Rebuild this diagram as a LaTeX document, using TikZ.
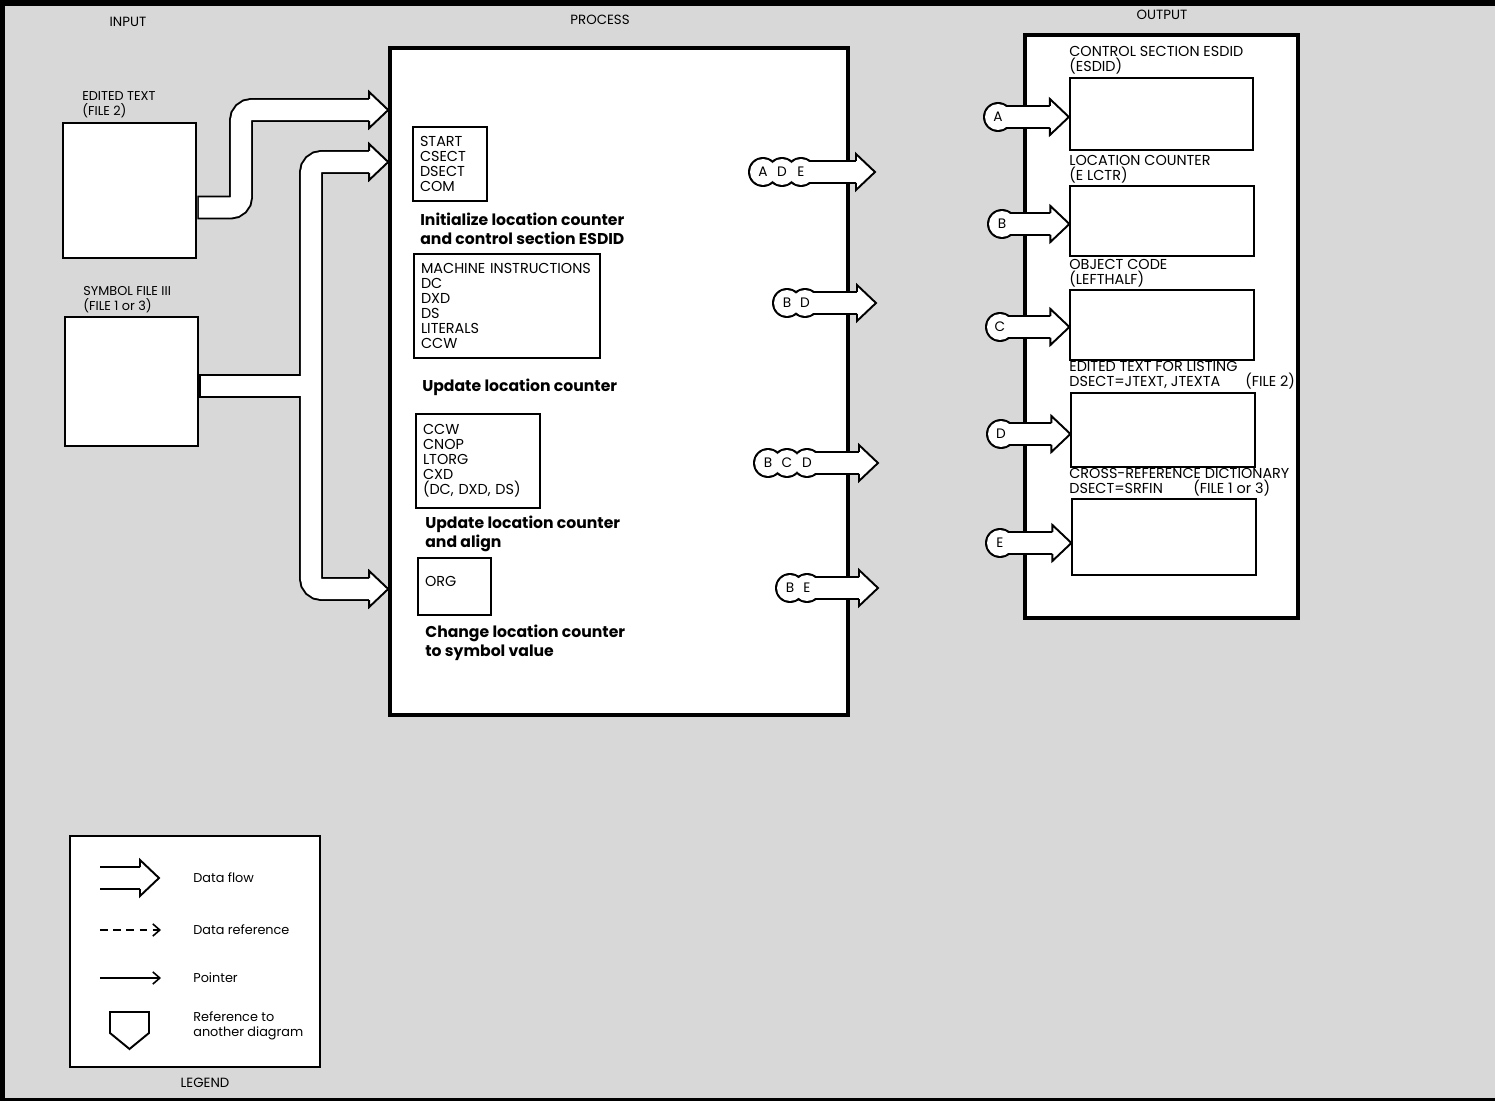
\documentclass[tikz,border=0pt]{standalone}
\usepackage{fontspec}
\setmainfont{Poppins}
\usetikzlibrary{positioning,arrows.meta,calc}
\definecolor{sheet}{HTML}{D8D8D8}
\newcommand{\lblfont}{\fontsize{7.3}{8.5}\selectfont}
\newcommand{\kwfont}{\fontsize{8.2}{8.6}\selectfont}
\newcommand{\capfont}{\fontsize{8.9}{10.8}\selectfont\bfseries}
\newcommand{\tagfont}{\fontsize{7.8}{8}\selectfont}
\tikzset{
    box/.style={draw,line width=1.6pt,fill=white,inner sep=0pt},
    bigbox/.style={box,line width=2.1pt},
    outbox/.style={box,line width=1pt,minimum width=3.67cm},
    kwbox/.style={draw,line width=0.8pt,fill=white,font=\kwfont,align=left,inner xsep=0.14cm,inner ysep=0pt},
    lbl/.style={font=\lblfont,align=left,anchor=west,inner sep=0pt},
    olbl/.style={lbl,font=\kwfont},
    caption/.style={font=\capfont,align=left,anchor=west,inner sep=0pt},
    title/.style={font=\fontsize{7.6}{8}\selectfont,inner sep=0pt},
    tagletter/.style={font=\tagfont,inner sep=0pt},
    shaftout/.style={draw=black,line width=13.6pt,rounded corners=6pt},
    shaftin/.style={draw=white,line width=11.4pt,rounded corners=6pt},
    tipline/.style={draw=black,fill=white,line width=1.1pt,line join=miter},
    ptr/.style={line width=0.9pt,-{Straight Barb[length=4pt,width=7pt]}},
}
\newcommand{\flowtip}[1]{%
    \filldraw[tipline] ([shift={(-19,-11)}]#1) -- ++(0,-7) -- (#1) -- ([shift={(-19,18)}]#1) -- ++(0,-7);}
\newcommand{\tagflow}[5]{%
    \foreach \tx/\tl in {#2} {\coordinate (#1\tl) at (\tx,#3);}
    \foreach \tx/\tl in {#2} {\fill (#1\tl) circle[radius=0.3cm];}
    \draw[shaftout] (#1#4) -- ([xshift=-0.36cm]#5);
    \foreach \tx/\tl in {#2} {\fill[white] (#1\tl) circle[radius=0.26cm];}
    \draw[shaftin] (#1#4) -- ([xshift=-0.36cm]#5);
    \foreach \tx/\tl in {#2} {\node[tagletter] (#1\tl-l) at (#1\tl) {\tl};}
    \flowtip{#5}}

\begin{document}
\begin{tikzpicture}[x=0.02cm,y=-0.02cm]
    \useasboundingbox (0,0) rectangle (1495,1101);
    \fill[sheet] (0,0) rectangle (1495,1101);
    \draw[line width=3.5pt] (1.5,1099.5) -- (1.5,3) -- (1495,3);
    \draw[line width=2pt] (0,1099.5) -- (1495,1099.5);

    \node[title] (tin) at (128,22) {INPUT};
    \node[title] (tproc) at (600,20) {PROCESS};
    \node[title] (tout) at (1162,15) {OUTPUT};
    \node[title] (tleg) at (205,1083) {LEGEND};

    \node[box,minimum width=2.66cm,minimum height=2.7cm] (edited) at (129.5,190.5) {};
    \node[box,minimum width=2.66cm,minimum height=2.58cm] (symfile) at (131.5,381.5) {};
    \node[lbl] (ledited) at (82,104.5) {EDITED TEXT\\(FILE 2)};
    \node[lbl] (lsymfile) at (83,299.5) {SYMBOL FILE III\\(FILE 1 or 3)};

    \node[bigbox,minimum width=9.16cm,minimum height=13.34cm] (process) at (619,381.5) {};
    \node[bigbox,minimum width=5.46cm,minimum height=11.66cm] (output) at (1161.5,326.5) {};

    \node[kwbox,text width=1.2cm,minimum height=1.48cm] (kwstart) at (450,164) {START\\CSECT\\DSECT\\COM};
    \node[caption] (cinit) at (420,228.5) {Initialize location counter\\and control section ESDID};
    \node[kwbox,text width=3.44cm,minimum height=2.08cm] (kwmach) at (507,306) {\mbox{MACHINE INSTRUCTIONS}\\DC\\DXD\\DS\\LITERALS\\CCW};
    \node[caption] (cupd) at (422,387) {Update location counter};
    \node[kwbox,text width=2.2cm,minimum height=1.88cm] (kwccw) at (478,461) {CCW\\CNOP\\LTORG\\CXD\\(DC, DXD, DS)};
    \node[caption] (calign) at (425,533.5) {Update location counter\\and align};
    \node[kwbox,text width=1.18cm,minimum height=1.14cm,text depth=0.22cm] (kworg) at (454.5,586.5) {ORG};
    \node[caption] (corg) at (425,643) {Change location counter\\to symbol value};

    \node[outbox,minimum height=1.44cm] (esdid) at (1161.5,114) {};
    \node[outbox,minimum height=1.4cm] (lctr) at (1162,221) {};
    \node[outbox,minimum height=1.4cm] (objcode) at (1162,325) {};
    \node[outbox,minimum height=1.48cm] (jtext) at (1163,430) {};
    \node[outbox,minimum height=1.52cm] (srfin) at (1164,537) {};
    \node[olbl] (lesdid) at (1069,60) {CONTROL SECTION ESDID\\(ESDID)};
    \node[olbl] (llctr) at (1069,169) {LOCATION COUNTER\\(E LCTR)};
    \node[olbl] (lobjcode) at (1069,273.5) {OBJECT CODE\\(LEFTHALF)};
    \node[olbl] (ljtext) at (1069,375.5) {EDITED TEXT FOR LISTING\\\makebox[3.52cm][l]{DSECT=JTEXT, JTEXTA}(FILE 2)};
    \node[olbl] (lsrfin) at (1069,482.5) {CROSS-REFERENCE DICTIONARY\\\makebox[2.48cm][l]{DSECT=SRFIN}(FILE 1 or 3)};

    \coordinate (pin1) at (process.west |- 0,110);
    \coordinate (pin2) at (process.west |- 0,162);
    \coordinate (pin3) at (process.west |- 0,589);
    \draw[shaftout] (edited.east |- 0,207.5) -- (241,207.5) -- (241,110) -- ([xshift=-0.36cm]pin1);
    \draw[shaftout] ([xshift=-0.36cm]pin2) -- (311,162) -- (311,589) -- ([xshift=-0.36cm]pin3);
    \draw[shaftout] (symfile.east |- 0,386) -- (311,386);
    \draw[shaftin,shorten <=0.8pt] (edited.east |- 0,207.5) -- (241,207.5) -- (241,110) -- ([xshift=-0.36cm]pin1);
    \draw[shaftin] ([xshift=-0.36cm]pin2) -- (311,162) -- (311,589) -- ([xshift=-0.36cm]pin3);
    \draw[shaftin,shorten <=0.8pt] (symfile.east |- 0,386) -- (311,386);
    \flowtip{pin1}
    \flowtip{pin2}
    \flowtip{pin3}

    \coordinate (pout1) at (875,172);
    \coordinate (pout2) at (876,303);
    \coordinate (pout3) at (878,463);
    \coordinate (pout4) at (878,588);
    \tagflow{ade}{763/A,782/D,801/E}{172}{E}{pout1}
    \tagflow{bd}{787/B,805/D}{303}{D}{pout2}
    \tagflow{bcd}{768/B,787/C,807/D}{463}{D}{pout3}
    \tagflow{be}{790/B,807/E}{588}{E}{pout4}

    \coordinate (pa) at (esdid.west |- 0,117);
    \coordinate (pb) at (lctr.west |- 0,224);
    \coordinate (pc) at (objcode.west |- 0,327);
    \coordinate (pd) at (jtext.west |- 0,434);
    \coordinate (pe) at (srfin.west |- 0,543);
    \tagflow{oa}{998/A}{117}{A}{pa}
    \tagflow{ob}{1002/B}{224}{B}{pb}
    \tagflow{oc}{1000/C}{327}{C}{pc}
    \tagflow{od}{1001/D}{434}{D}{pd}
    \tagflow{oe}{1000/E}{543}{E}{pe}

    \node[box,line width=1.3pt,minimum width=5cm,minimum height=4.62cm] (legend) at (195,951.5) {};
    \coordinate (lf1) at (100,878);
    \coordinate (lf2) at (159,878);
    \draw[shaftout] (lf1) -- ([xshift=-0.36cm]lf2);
    \draw[shaftin] (lf1) -- ([xshift=-0.36cm]lf2);
    \flowtip{lf2}
    \coordinate (ld1) at (100,930);
    \coordinate (ld2) at (161,930);
    \draw[ptr,dash pattern=on 4.5pt off 3pt] (ld1) -- (ld2);
    \coordinate (lp1) at (100,978);
    \coordinate (lp2) at (161,978);
    \draw[ptr] (lp1) -- (lp2);
    \draw[line width=1.1pt,fill=white] (110,1012) -- (149,1012) -- (149,1033) -- (129.5,1049) -- (110,1033) -- cycle;
    \node[lbl] (ldflow) at (193,878) {Data flow};
    \node[lbl] (ldref) at (193,930) {Data reference};
    \node[lbl] (lptr) at (193,978) {Pointer};
    \node[lbl] (lref) at (193,1026) {Reference to\\another diagram};
\end{tikzpicture}
\end{document}
